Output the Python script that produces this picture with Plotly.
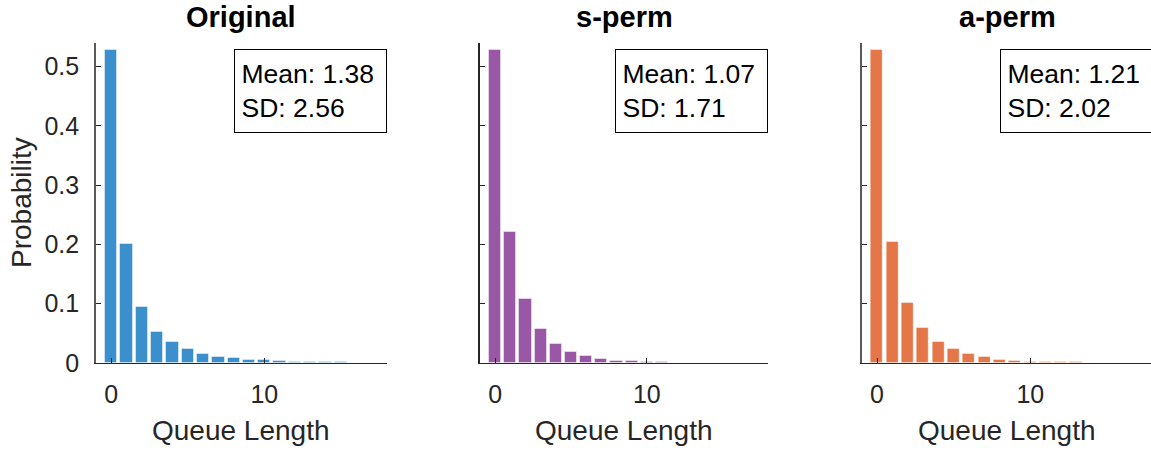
import plotly.graph_objects as go

# Queue-length distributions for the three schedulers
queue_original = list(range(16))
prob_original = [0.529, 0.2006, 0.095, 0.0528, 0.0354, 0.0236, 0.0157, 0.0107,
                 0.0079, 0.005, 0.0045, 0.0034, 0.0022, 0.002, 0.0017, 0.0015]

queue_sperm = list(range(12))
prob_sperm = [0.529, 0.2213, 0.1079, 0.0573, 0.0326, 0.0185, 0.0112, 0.0067,
              0.0039, 0.0028, 0.0022, 0.0017]

queue_aperm = list(range(14))
prob_aperm = [0.529, 0.2045, 0.1011, 0.0596, 0.0354, 0.023, 0.0152, 0.0096,
              0.0056, 0.0034, 0.0022, 0.002, 0.0017, 0.0017]

titles = ["Original", "s-perm", "a-perm"]
means = ["1.38", "1.07", "1.21"]
sds = ["2.56", "1.71", "2.02"]
colors = ["rgb(58,143,204)", "rgb(152,88,165)", "rgb(228,118,72)"]

y_ticks = [0, 0.1, 0.2, 0.3, 0.4, 0.5]
y_tick_labels = ["0", "0.1", "0.2", "0.3", "0.4", "0.5"]
x_ticks = [0, 10]
x_tick_labels = ["0", "10"]

W, H = 1151, 452
FONT = "Liberation Sans, Arial, Helvetica, sans-serif"

# Panel geometry in pixels: left edge, pixel per unit on x
panels = [
    dict(left=96.0, unit=15.3, yline="#5a5a5a"),
    dict(left=480.0, unit=15.17, yline="#262626"),
    dict(left=861.7, unit=15.33, yline="#5a5a5a"),
]
plot_top, plot_bottom = 43.0, 363.0
x_min, x_max = -1.0, 18.0

series = [(queue_original, prob_original),
          (queue_sperm, prob_sperm),
          (queue_aperm, prob_aperm)]

fig = go.Figure()
annotations = []

for i, (p, (qx, py)) in enumerate(zip(panels, series)):
    n = i + 1
    right = p["left"] + (x_max - x_min) * p["unit"]
    x_hi = x_max
    if right > W:
        x_hi = x_min + (W - p["left"]) / p["unit"]
        right = W
    dom_x = [p["left"] / W, right / W]
    dom_y = [1 - plot_bottom / H, 1 - plot_top / H]
    xa = "xaxis" if n == 1 else f"xaxis{n}"
    ya = "yaxis" if n == 1 else f"yaxis{n}"
    xr = "x" if n == 1 else f"x{n}"
    yr = "y" if n == 1 else f"y{n}"

    fig.add_trace(go.Bar(
        x=qx, y=py, xaxis=xr, yaxis=yr, width=0.8,
        marker=dict(color=colors[i], line=dict(color="rgba(255,255,255,0.45)", width=1)),
        showlegend=False,
    ))

    fig.layout[xa] = dict(
        domain=dom_x, range=[x_min, x_hi], anchor=yr, automargin=False,
        tickmode="array", tickvals=x_ticks, ticktext=x_tick_labels,
        ticks="inside", ticklen=5, tickwidth=1, tickcolor="#262626",
        showline=True, linecolor="#262626", linewidth=1.3,
        showgrid=False, zeroline=False,
        tickfont=dict(family=FONT, size=25, color="#262626"),
        ticklabelstandoff=9,
    )
    fig.layout[ya] = dict(
        domain=dom_y, range=[0, 0.54], anchor=xr, automargin=False,
        tickmode="array", tickvals=y_ticks,
        ticktext=y_tick_labels if n == 1 else [""] * len(y_ticks),
        showticklabels=(n == 1),
        ticks="inside", ticklen=5, tickwidth=1, tickcolor="#262626",
        showline=True, linecolor=p["yline"], linewidth=1.6,
        showgrid=False, zeroline=False,
        tickfont=dict(family=FONT, size=25, color="#262626"),
        ticklabelstandoff=10,
    )

    center = (p["left"] + p["left"] + (x_max - x_min) * p["unit"]) / 2
    # Panel title
    annotations.append(dict(
        text=f"<b>{titles[i]}</b>", x=center / W, y=1 - 17 / H,
        xref="paper", yref="paper", xanchor="center", yanchor="middle",
        showarrow=False, font=dict(family=FONT, size=29, color="#000000"),
    ))
    # x-axis label
    annotations.append(dict(
        text="Queue Length", x=center / W, y=1 - 430 / H,
        xref="paper", yref="paper", xanchor="center", yanchor="middle",
        showarrow=False, font=dict(family=FONT, size=28, color="#262626"),
    ))
    # Summary statistics box
    box_right = p["left"] + (x_max - x_min) * p["unit"]
    annotations.append(dict(
        text=f"Mean: {means[i]}<br>SD: {sds[i]}",
        x=box_right / W, y=1 - 49 / H,
        xref="paper", yref="paper", xanchor="right", yanchor="top",
        align="left", valign="middle", width=138, height=69,
        borderpad=6.5, bordercolor="#000000", borderwidth=1, bgcolor="#ffffff",
        showarrow=False, font=dict(family=FONT, size=26.5, color="#000000"),
    ))

# y-axis label on the first panel
annotations.append(dict(
    text="Probability", x=21 / W, y=1 - 203 / H, textangle=-90,
    xref="paper", yref="paper", xanchor="center", yanchor="middle",
    showarrow=False, font=dict(family=FONT, size=28, color="#262626"),
))

fig.update_layout(
    width=W, height=H,
    margin=dict(l=0, r=0, t=0, b=0, autoexpand=False),
    paper_bgcolor="#ffffff", plot_bgcolor="#ffffff",
    bargap=0, annotations=annotations,
)

fig.write_html("out.html")
